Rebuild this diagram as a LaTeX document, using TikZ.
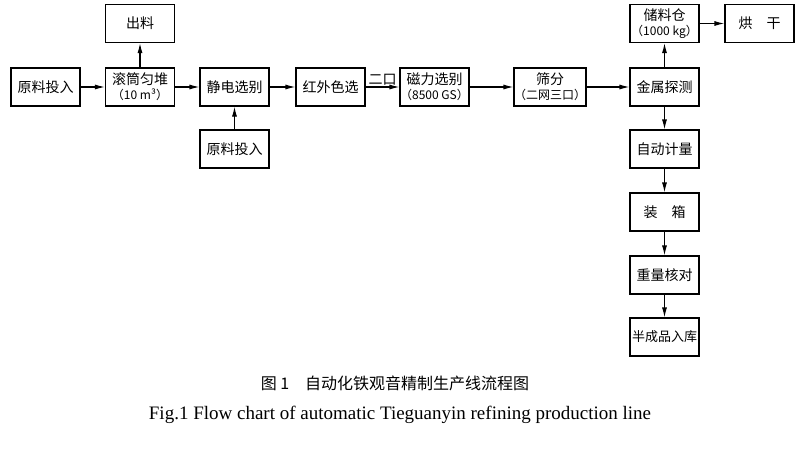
\documentclass[tikz,border=0pt]{standalone}
\usepackage{fontspec}
\setmainfont{Liberation Serif}
\newfontfamily\cjk{Noto Sans CJK SC}
\usetikzlibrary{arrows.meta}
\begin{document}
\begin{tikzpicture}[x=1pt,y=-1pt,
  bx/.style={draw,line width=1.1pt,minimum width=69pt,minimum height=38pt,inner sep=0pt,align=center,font=\cjk\fontsize{14}{15}\selectfont},
  ar/.style={-{Latex[length=10pt,width=5pt]},line width=1.1pt}]
\useasboundingbox (0,0) rectangle (800,448);
\node[bx] (a) at (45.5,87) {原料投入};
\node[bx] (b) at (140,87) {滚筒匀堆\\{\fontsize{12}{13}\selectfont（10 m³）}};
\node[bx] (c) at (140,23.5) {出料};
\node[bx] (d) at (234.5,87) {静电选别};
\node[bx] (e) at (234.5,149) {原料投入};
\node[bx] (f) at (330.5,87) {红外色选};
\node[bx] (g) at (434.5,87) {磁力选别\\{\fontsize{12}{13}\selectfont（8500 GS）}};
\node[bx] (h) at (550,87) {筛分\\{\fontsize{12}{13}\selectfont（二网三口）}};
\node[bx] (i) at (664.5,87) {金属探测};
\node[bx] (j) at (664.5,23.5) {储料仓\\{\fontsize{12}{13}\selectfont（1000 kg）}};
\node[bx] (k) at (759.5,23.5) {烘\quad 干};
\node[bx] (l) at (664.5,149) {自动计量};
\node[bx] (m) at (664.5,212) {装\quad 箱};
\node[bx] (n) at (664.5,275) {重量核对};
\node[bx] (o) at (664.5,337) {{\fontsize{13}{14}\selectfont 半成品入库}};
\draw[ar] (a) -- (b);
\draw[ar] (b) -- (c);
\draw[ar] (b) -- (d);
\draw[ar] (e) -- (d);
\draw[ar] (d) -- (f);
\draw[ar] (f) -- node[above,font=\cjk\fontsize{14}{15}\selectfont,inner sep=1pt] {二口} (g);
\draw[ar] (g) -- (h);
\draw[ar] (h) -- (i);
\draw[ar] (i) -- (j);
\draw[ar] (j) -- (k);
\draw[ar] (i) -- (l);
\draw[ar] (l) -- (m);
\draw[ar] (m) -- (n);
\draw[ar] (n) -- (o);
\node[font=\cjk\fontsize{16}{18}\selectfont] (t1) at (395,383) {图 1\quad 自动化铁观音精制生产线流程图};
\node[font=\fontsize{19}{21}\selectfont] (t2) at (400,415) {Fig.1 Flow chart of automatic Tieguanyin refining production line};
\end{tikzpicture}
\end{document}
